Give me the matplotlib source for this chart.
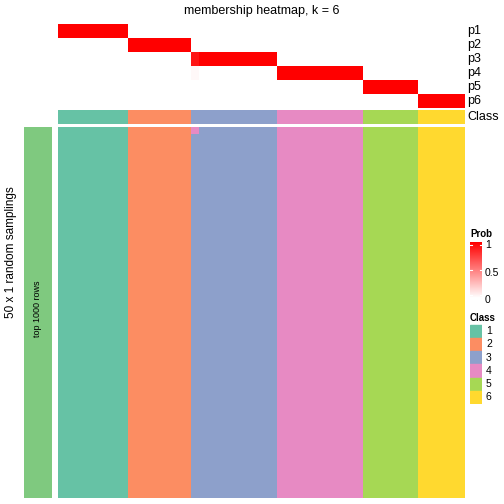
import numpy as np
import matplotlib
import matplotlib.pyplot as plt
from matplotlib.colors import ListedColormap, LinearSegmentedColormap
from matplotlib.patches import Rectangle

matplotlib.use("Agg")
plt.rcParams["font.family"] = ["Liberation Sans", "DejaVu Sans"]

W, H = 504, 504

# class of each of the 52 samples (columns)
sample_class = [1] * 9 + [2] * 8 + [3] * 11 + [4] * 11 + [5] * 7 + [6] * 6
# membership probabilities that differ from a clean 0/1 (row index, column, value)
prob_exceptions = [(2, 17, 0.92), (3, 17, 0.03)]
# 50 random samplings; rows equal sample_class except these (sampling, column, class)
n_samplings = 50
sampling_exceptions = [(0, 17, 4)]

class_colors = ["#66C2A5", "#FC8D62", "#8DA0CB", "#E78AC3", "#A6D854", "#FFD92F"]
row_labels = ["p1", "p2", "p3", "p4", "p5", "p6"]
class_names = ["1", "2", "3", "4", "5", "6"]

fig = plt.figure(figsize=(W / 100, H / 100), dpi=100)


def ax_px(x0, y0, x1, y1):
    ax = fig.add_axes([x0 / W, 1 - y1 / H, (x1 - x0) / W, (y1 - y0) / H])
    ax.set_axis_off()
    return ax


cls = np.array(sample_class)
n = len(cls)
k = len(row_labels)

# probability matrix
prob = np.zeros((k, n))
for j, c in enumerate(cls):
    prob[c - 1, j] = 1.0
for r, c, v in prob_exceptions:
    prob[r, c] = v

# membership matrix
memb = np.tile(cls, (n_samplings, 1))
for r, c, v in sampling_exceptions:
    memb[r, c] = v

prob_cmap = LinearSegmentedColormap.from_list("prob", ["#FFFFFF", "#FF0000"])
class_cmap = ListedColormap(class_colors)

LEFT, RIGHT = 58, 465

# prob heatmap
ax = ax_px(LEFT, 24, RIGHT, 108)
ax.imshow(prob, cmap=prob_cmap, vmin=0, vmax=1, aspect="auto", interpolation="nearest")
for i, lab in enumerate(row_labels):
    fig.text((RIGHT + 2) / W, 1 - (24 + 14 * i + 7) / H, lab, fontsize=9,
             va="center", ha="left")

# class annotation
ax = ax_px(LEFT, 110, RIGHT, 124)
ax.imshow(cls[None, :] - 1, cmap=class_cmap, vmin=-0.5, vmax=5.5, aspect="auto",
          interpolation="nearest")
fig.text((RIGHT + 2) / W, 1 - 117 / H, "Class", fontsize=9, va="center", ha="left")

# main membership heatmap
ax = ax_px(LEFT, 127, RIGHT, 498)
ax.imshow(memb - 1, cmap=class_cmap, vmin=-0.5, vmax=5.5, aspect="auto",
          interpolation="nearest")

# left annotation bar
ax = ax_px(24, 127, 52, 498)
ax.add_patch(Rectangle((0, 0), 1, 1, color="#7FC97F", transform=ax.transAxes))
fig.text(38 / W, 1 - 309 / H, "top 1000 rows", rotation=90, fontsize=6.5,
         ha="center", va="center")
fig.text(11 / W, 1 - 252 / H, "50 x 1 random samplings", rotation=90,
         fontsize=8.5, ha="center", va="center")

# title
fig.text(262 / W, 1 - 11 / H, "membership heatmap, k = 6", fontsize=9,
         ha="center", va="center")

# Prob legend
fig.text(470 / W, 1 - 234 / H, "Prob", fontsize=7, fontweight="bold",
         ha="left", va="center")
ax = ax_px(470, 242, 482, 298)
grad = np.linspace(1, 0, 100)[:, None]
ax.imshow(grad, cmap=prob_cmap, vmin=0, vmax=1, aspect="auto",
          extent=[0, 1, 0, 1])
ax.set_xlim(0, 1)
ax.set_ylim(0, 1)
for t in [0.05, 0.5, 0.95]:
    ax.plot([0, 0.2], [t, t], color="white", lw=0.8)
    ax.plot([0.8, 1], [t, t], color="white", lw=0.8)
for t, lab in [(245, "1"), (273, "0.5"), (300, "0")]:
    fig.text(485 / W, 1 - t / H, lab, fontsize=7.5, ha="left", va="center")

# Class legend
fig.text(470 / W, 1 - 318 / H, "Class", fontsize=7, fontweight="bold",
         ha="left", va="center")
ax = ax_px(470, 324, 482, 404)
ax.set_xlim(0, 1)
ax.set_ylim(80, 0)
for i, col in enumerate(class_colors):
    ax.add_patch(Rectangle((0, 13.3 * i + 0.5), 1, 12.3, color=col))
    fig.text(486 / W, 1 - (324 + 13.3 * i + 7) / H, class_names[i],
             fontsize=7.5, ha="left", va="center")

fig.savefig("out.png", dpi=100)
